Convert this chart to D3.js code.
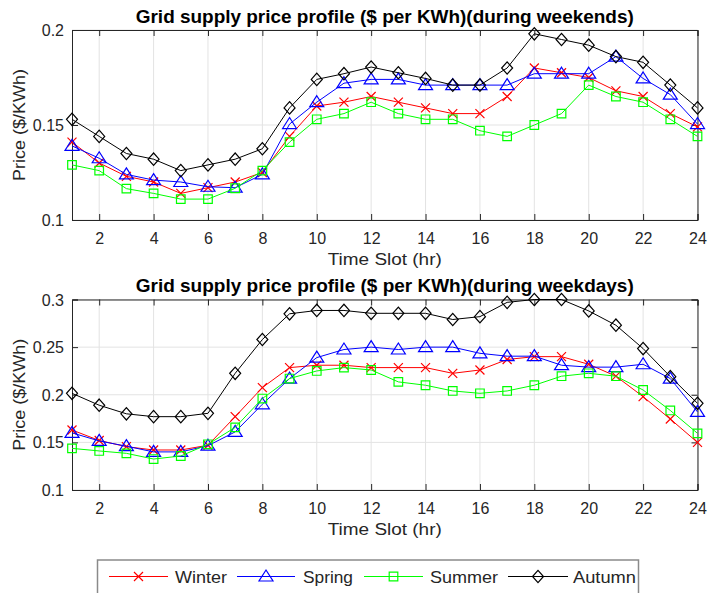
<!DOCTYPE html>
<html><head><meta charset="utf-8">
<script src="https://cdn.jsdelivr.net/npm/d3@7/dist/d3.min.js"></script>
<style>
body{margin:0;background:#fff;}
svg{display:block;font-family:Arial,"Liberation Sans",Helvetica,sans-serif;}
</style></head>
<body><svg id="chart" width="709" height="593"></svg>
<script>
const hours = [1,2,3,4,5,6,7,8,9,10,11,12,13,14,15,16,17,18,19,20,21,22,23,24];
const xTicks = [2,4,6,8,10,12,14,16,18,20,22,24];
const seriesNames = ["Winter","Spring","Summer","Autumn"];

const weekendWinter = [0.141,0.130,0.123,0.120,0.114,0.117,0.120,0.125,0.144,0.160,0.162,0.165,0.162,0.159,0.156,0.156,0.165,0.180,0.1775,0.175,0.168,0.165,0.156,0.149];
const weekendSpring = [0.139,0.1325,0.124,0.121,0.120,0.1175,0.117,0.124,0.1505,0.162,0.172,0.174,0.174,0.171,0.171,0.171,0.171,0.177,0.177,0.177,0.186,0.1745,0.166,0.1505];
const weekendSummer = [0.129,0.126,0.1165,0.114,0.111,0.111,0.1167,0.126,0.141,0.153,0.156,0.162,0.156,0.153,0.153,0.147,0.144,0.150,0.156,0.171,0.165,0.162,0.153,0.144];
const weekendAutumn = [0.153,0.144,0.135,0.132,0.126,0.129,0.132,0.1375,0.159,0.174,0.177,0.1805,0.1775,0.1745,0.171,0.171,0.180,0.198,0.195,0.192,0.186,0.183,0.171,0.159];

const weekdayWinter = [0.163,0.152,0.1455,0.142,0.142,0.147,0.177,0.2075,0.2285,0.231,0.231,0.2285,0.2285,0.2285,0.2225,0.226,0.237,0.240,0.240,0.232,0.2195,0.198,0.1745,0.150];
const weekdaySpring = [0.160,0.1515,0.146,0.140,0.140,0.1465,0.161,0.190,0.217,0.239,0.2475,0.250,0.2475,0.250,0.250,0.2435,0.2405,0.2405,0.231,0.229,0.229,0.232,0.217,0.182];
const weekdaySummer = [0.1437,0.141,0.1385,0.1325,0.1357,0.148,0.1657,0.196,0.217,0.225,0.2285,0.226,0.2135,0.210,0.204,0.2015,0.204,0.210,0.2195,0.2225,0.2195,0.205,0.1835,0.1595];
const weekdayAutumn = [0.2015,0.189,0.180,0.177,0.177,0.1805,0.2225,0.258,0.285,0.2885,0.2885,0.2855,0.2855,0.2855,0.279,0.282,0.297,0.300,0.300,0.288,0.273,0.2485,0.219,0.191];

const weekendYTicks = [0.1,0.15,0.2];
const weekdayYTicks = [0.1,0.15,0.2,0.25,0.3];

const titles = ["Grid supply price profile ($ per KWh)(during weekends)","Grid supply price profile ($ per KWh)(during weekdays)"];
const xLabel = "Time Slot (hr)";
const yLabel = "Price ($/KWh)";

const colors = {Winter:"#ff0000",Spring:"#0000ff",Summer:"#00ff00",Autumn:"#000000"};
const markerPath = {
  Winter:"M-4.5,-4.5L4.5,4.5M-4.5,4.5L4.5,-4.5",
  Spring:"M0,-6.5L7,4.5L-7,4.5Z",
  Summer:"M-4.3,-4.3H4.3V4.3H-4.3Z",
  Autumn:"M0,-6.2L5.5,0L0,6.2L-5.5,0Z"
};

const svg = d3.select("#chart");
const axisColor = "#262626";

function panel(top, bottom, yDomain, yTicks, data, title){
  const left = 72, right = 697.5;
  const x = d3.scaleLinear().domain([1,24]).range([left,right]);
  const y = d3.scaleLinear().domain(yDomain).range([bottom,top]);
  const g = svg.append("g");
  g.append("g").selectAll("line").data(xTicks).join("line")
    .attr("x1",d=>x(d)).attr("x2",d=>x(d)).attr("y1",top).attr("y2",bottom)
    .attr("stroke","#e3e3e3").attr("stroke-width",1);
  g.append("g").selectAll("line").data(yTicks).join("line")
    .attr("x1",left).attr("x2",right).attr("y1",d=>y(d)).attr("y2",d=>y(d))
    .attr("stroke","#e3e3e3").attr("stroke-width",1);
  const ax = g.append("g").attr("transform",`translate(0,${bottom})`)
    .call(d3.axisBottom(x).tickValues(xTicks).tickSize(-6).tickPadding(13).tickFormat(d3.format("d")));
  const axTop = g.append("g").attr("transform",`translate(0,${top})`)
    .call(d3.axisTop(x).tickValues(xTicks).tickSize(-6).tickFormat(""));
  const ay = g.append("g").attr("transform",`translate(${left},0)`)
    .call(d3.axisLeft(y).tickValues(yTicks).tickSize(-6).tickPadding(8).tickFormat(d=>String(+d.toFixed(2))));
  const ayR = g.append("g").attr("transform",`translate(${right},0)`)
    .call(d3.axisRight(y).tickValues(yTicks).tickSize(-6).tickFormat(""));
  [ax,axTop,ay,ayR].forEach(a=>{
    a.selectAll("path.domain").attr("stroke",axisColor).attr("stroke-width",1);
    a.selectAll(".tick line").attr("stroke",axisColor);
    a.selectAll("text").attr("fill",axisColor).attr("font-size",16).attr("font-family","Arial,'Liberation Sans',sans-serif");
  });
  ay.selectAll("text").attr("dy","0.35em");
  seriesNames.forEach((name,i)=>{
    const vals = data[i];
    const line = d3.line().x((d,j)=>x(hours[j])).y(d=>y(d));
    g.append("path").datum(vals).attr("d",line).attr("fill","none")
      .attr("stroke",colors[name]).attr("stroke-width",1);
    g.append("g").selectAll("path").data(vals).join("path")
      .attr("transform",(d,j)=>`translate(${x(hours[j])},${y(d)})`)
      .attr("d",markerPath[name]).attr("fill","none")
      .attr("stroke",colors[name]).attr("stroke-width",1.2);
  });
  g.append("text").attr("x",(left+right)/2).attr("y",top-7.5).attr("text-anchor","middle")
    .attr("font-weight","bold").attr("font-size",17.5).attr("fill","#000")
    .attr("textLength",498).attr("lengthAdjust","spacingAndGlyphs").text(title);
  g.append("text").attr("x",(left+right)/2).attr("y",bottom+44.5).attr("text-anchor","middle")
    .attr("font-size",16).attr("fill",axisColor)
    .attr("textLength",114).attr("lengthAdjust","spacingAndGlyphs").text(xLabel);
  g.append("text").attr("transform",`translate(25,${(top+bottom)/2}) rotate(-90)`)
    .attr("text-anchor","middle").attr("font-size",17).attr("fill",axisColor)
    .attr("textLength",112).attr("lengthAdjust","spacingAndGlyphs").text(yLabel);
}

panel(30,220,[0.1,0.2],weekendYTicks,[weekendWinter,weekendSpring,weekendSummer,weekendAutumn],titles[0]);
panel(299.5,490,[0.1,0.3],weekdayYTicks,[weekdayWinter,weekdaySpring,weekdaySummer,weekdayAutumn],titles[1]);

const legendItems = [
  {name:"Winter", x1:109, x2:168, tx:175, tw:52},
  {name:"Spring", x1:237, x2:295, tx:303, tw:50},
  {name:"Summer", x1:364, x2:423, tx:430, tw:68},
  {name:"Autumn", x1:508, x2:568, tx:573, tw:63}
];
const lg = svg.append("g");
lg.append("rect").attr("x",97.5).attr("y",560).attr("width",541).attr("height",40)
  .attr("fill","#fff").attr("stroke","#8a8a8a").attr("stroke-width",1.5);
legendItems.forEach(it=>{
  const ly = 576.5;
  lg.append("line").attr("x1",it.x1).attr("x2",it.x2).attr("y1",ly).attr("y2",ly)
    .attr("stroke",colors[it.name]).attr("stroke-width",1);
  lg.append("path").attr("transform",`translate(${(it.x1+it.x2)/2},${ly})`)
    .attr("d",markerPath[it.name]).attr("fill","none").attr("stroke",colors[it.name]).attr("stroke-width",1.2);
  lg.append("text").attr("x",it.tx).attr("y",583).attr("font-size",16.5).attr("fill",axisColor)
    .attr("textLength",it.tw).attr("lengthAdjust","spacingAndGlyphs").text(it.name);
});
</script></body></html>
